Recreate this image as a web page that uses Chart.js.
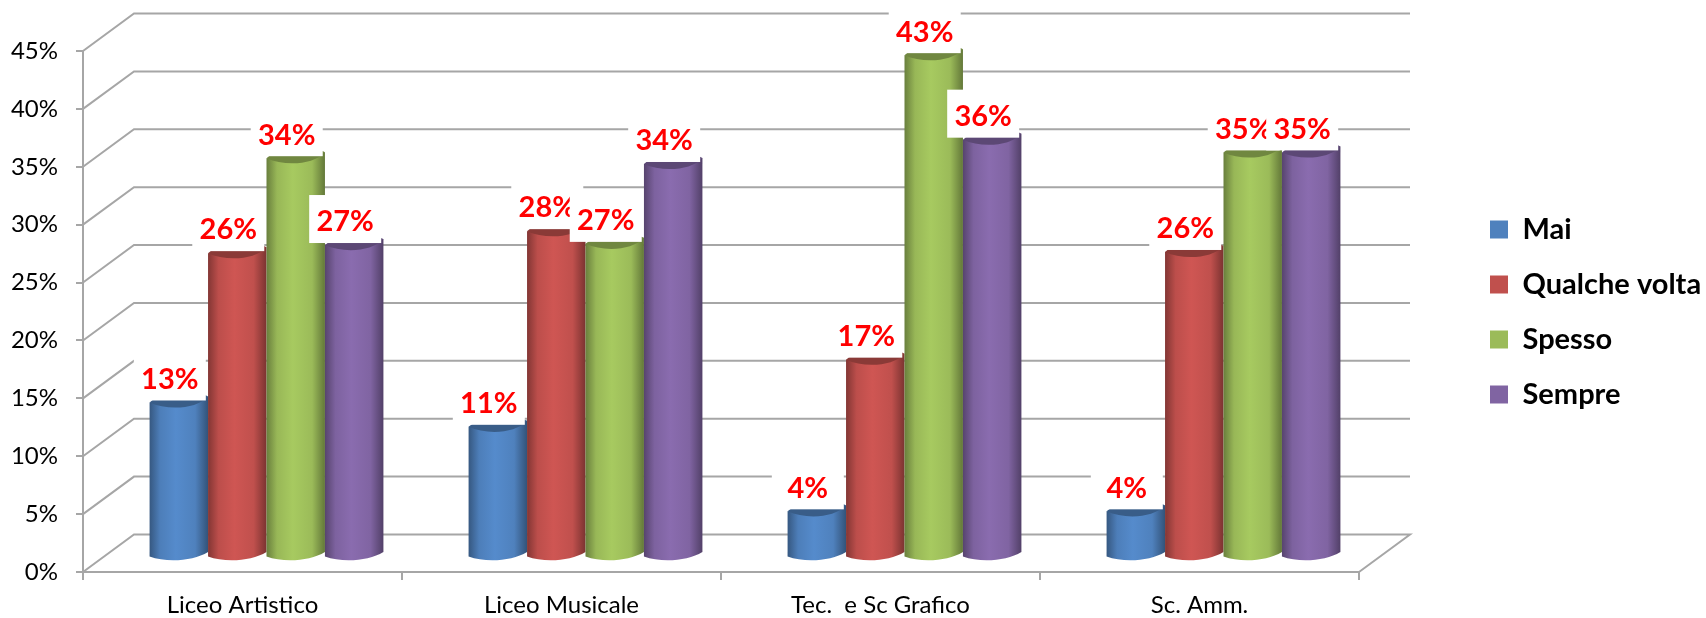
<!DOCTYPE html>
<html lang="en">
<head>
    <meta charset="UTF-8">
    <title>Liceo chart</title>
    <script src="https://cdn.jsdelivr.net/npm/chart.js"></script>
    <style>
        html, body { margin: 0; padding: 0; background: #fff; }
        #wrap { position: relative; width: 1706px; height: 618px; }
    </style>
</head>
<body>
    <div id="wrap"><canvas id="chart" width="1706" height="618"></canvas></div>
    <script>
        const categories = ['Liceo Artistico', 'Liceo Musicale', 'Tec.  e Sc Grafico', 'Sc. Amm.'];
        const mai = [13.0, 10.9, 3.6, 3.6];
        const qualcheVolta = [25.9, 27.8, 16.7, 26.0];
        const spesso = [34.1, 26.7, 43.0, 34.6];
        const sempre = [26.6, 33.6, 35.7, 34.6];
        const seriesColors = ['#4F81BD', '#C0504D', '#9BBB59', '#8064A2'];

        const GRID = '#a6a6a6';
        const DEPTH_X = 51, DEPTH_Y = 37.5;      // back wall offset
        const BAR_X = 24, BAR_Y = 19;            // bars stand in the middle of the floor

        function shade(hex, f) {
            const n = parseInt(hex.slice(1), 16);
            const c = [n >> 16, (n >> 8) & 255, n & 255].map(v => Math.min(255, Math.round(v * f)));
            return `rgb(${c[0]},${c[1]},${c[2]})`;
        }

        function drawCylinder(ctx, bar, color) {
            const w = bar.width;
            const L = bar.x - w / 2 + BAR_X, R = bar.x + w / 2 + BAR_X;
            const y = bar.y - BAR_Y, base = bar.base - BAR_Y;

            const grad = ctx.createLinearGradient(L, 0, R, 0);
            grad.addColorStop(0, shade(color, 0.68));
            grad.addColorStop(0.18, shade(color, 0.98));
            grad.addColorStop(0.45, shade(color, 1.08));
            grad.addColorStop(0.78, shade(color, 1.0));
            grad.addColorStop(1, shade(color, 0.64));

            ctx.beginPath();
            ctx.moveTo(L, y);
            ctx.lineTo(L, base + 4.5);
            ctx.bezierCurveTo(L + w * 0.3, base + 11, R - w * 0.25, base + 9, R, base);
            ctx.lineTo(R, y - 6);
            ctx.closePath();
            ctx.fillStyle = grad;
            ctx.fill();

            // darker top of the cylinder, the label box cuts it flat
            ctx.beginPath();
            ctx.moveTo(L, y);
            ctx.bezierCurveTo(L + w * 0.2, y - 11, R - w * 0.2, y - 12, R, y - 6);
            ctx.bezierCurveTo(R - w * 0.2, y + 7, L + w * 0.3, y + 8, L, y);
            ctx.closePath();
            ctx.fillStyle = shade(color, 0.72);
            ctx.fill();
        }

        const wallsAndBars = {
            id: 'wallsAndBars',
            beforeDatasetsDraw(chart) {
                const ctx = chart.ctx, yS = chart.scales.y, area = chart.chartArea;
                ctx.save();
                ctx.strokeStyle = GRID;
                ctx.lineWidth = 2;
                yS.ticks.forEach(t => {
                    const py = yS.getPixelForValue(t.value);
                    ctx.beginPath();
                    ctx.moveTo(area.left, py);
                    ctx.lineTo(area.left + DEPTH_X, py - DEPTH_Y);
                    ctx.lineTo(area.right + DEPTH_X, py - DEPTH_Y);
                    if (t.value === 0) ctx.lineTo(area.right, py);
                    ctx.stroke();
                });

                // later series sit on top of earlier ones
                chart.data.datasets.forEach((ds, i) => {
                    chart.getDatasetMeta(i).data.forEach(bar => drawCylinder(ctx, bar, ds.backgroundColor));
                });

                ctx.font = 'bold 29px Lato';
                ctx.textAlign = 'center';
                ctx.textBaseline = 'middle';
                chart.data.datasets.forEach((ds, i) => {
                    chart.getDatasetMeta(i).data.forEach((bar, j) => {
                        const cx = bar.x + BAR_X - 9, top = bar.y - BAR_Y;
                        ctx.fillStyle = '#fff';
                        ctx.fillRect(cx - 36, top - 50, 72, 48);
                        ctx.fillStyle = '#ff0000';
                        ctx.fillText(Math.round(ds.data[j]) + '%', cx, top - 23);
                    });
                });
                ctx.restore();
                return false;
            },
            afterLayout(chart) {
                const l = chart.legend;
                const w = l.right - l.left, h = l.bottom - l.top;
                l.left = 1490 - l.options.labels.padding;
                l.right = l.left + w;
                l.top = 189;
                l.bottom = l.top + h;
            }
        };

        new Chart(document.getElementById('chart'), {
            type: 'bar',
            data: {
                labels: categories,
                datasets: [
                    { label: 'Mai', data: mai, backgroundColor: seriesColors[0] },
                    { label: 'Qualche volta', data: qualcheVolta, backgroundColor: seriesColors[1] },
                    { label: 'Spesso', data: spesso, backgroundColor: seriesColors[2] },
                    { label: 'Sempre', data: sempre, backgroundColor: seriesColors[3] }
                ]
            },
            options: {
                responsive: false,
                animation: false,
                layout: { padding: { top: 51, right: 347, left: 0, bottom: 0 } },
                datasets: { bar: { categoryPercentage: 0.733, barPercentage: 1 } },
                plugins: {
                    tooltip: { enabled: false },
                    legend: {
                        position: 'chartArea',
                        align: 'start',
                        labels: {
                            boxWidth: 18,
                            boxHeight: 18,
                            padding: 26,
                            color: '#000',
                            font: { family: 'Lato', size: 29, weight: 'bold' }
                        }
                    }
                },
                scales: {
                    x: {
                        afterFit: s => { s.height = 46; },
                        border: { color: GRID, width: 2 },
                        grid: { drawOnChartArea: false, color: GRID, lineWidth: 2, tickLength: 8 },
                        ticks: { color: '#000', padding: 11, maxRotation: 0, font: { family: 'Lato', size: 24 } }
                    },
                    y: {
                        min: 0,
                        max: 45,
                        afterFit: s => { s.width = 83; },
                        border: { color: GRID, width: 2 },
                        grid: { drawOnChartArea: false, color: GRID, lineWidth: 2, tickLength: 7 },
                        ticks: { stepSize: 5, color: '#000', padding: 18, callback: v => v + '%', font: { family: 'Lato', size: 24 } }
                    }
                }
            },
            plugins: [wallsAndBars]
        });
    </script>
</body>
</html>
